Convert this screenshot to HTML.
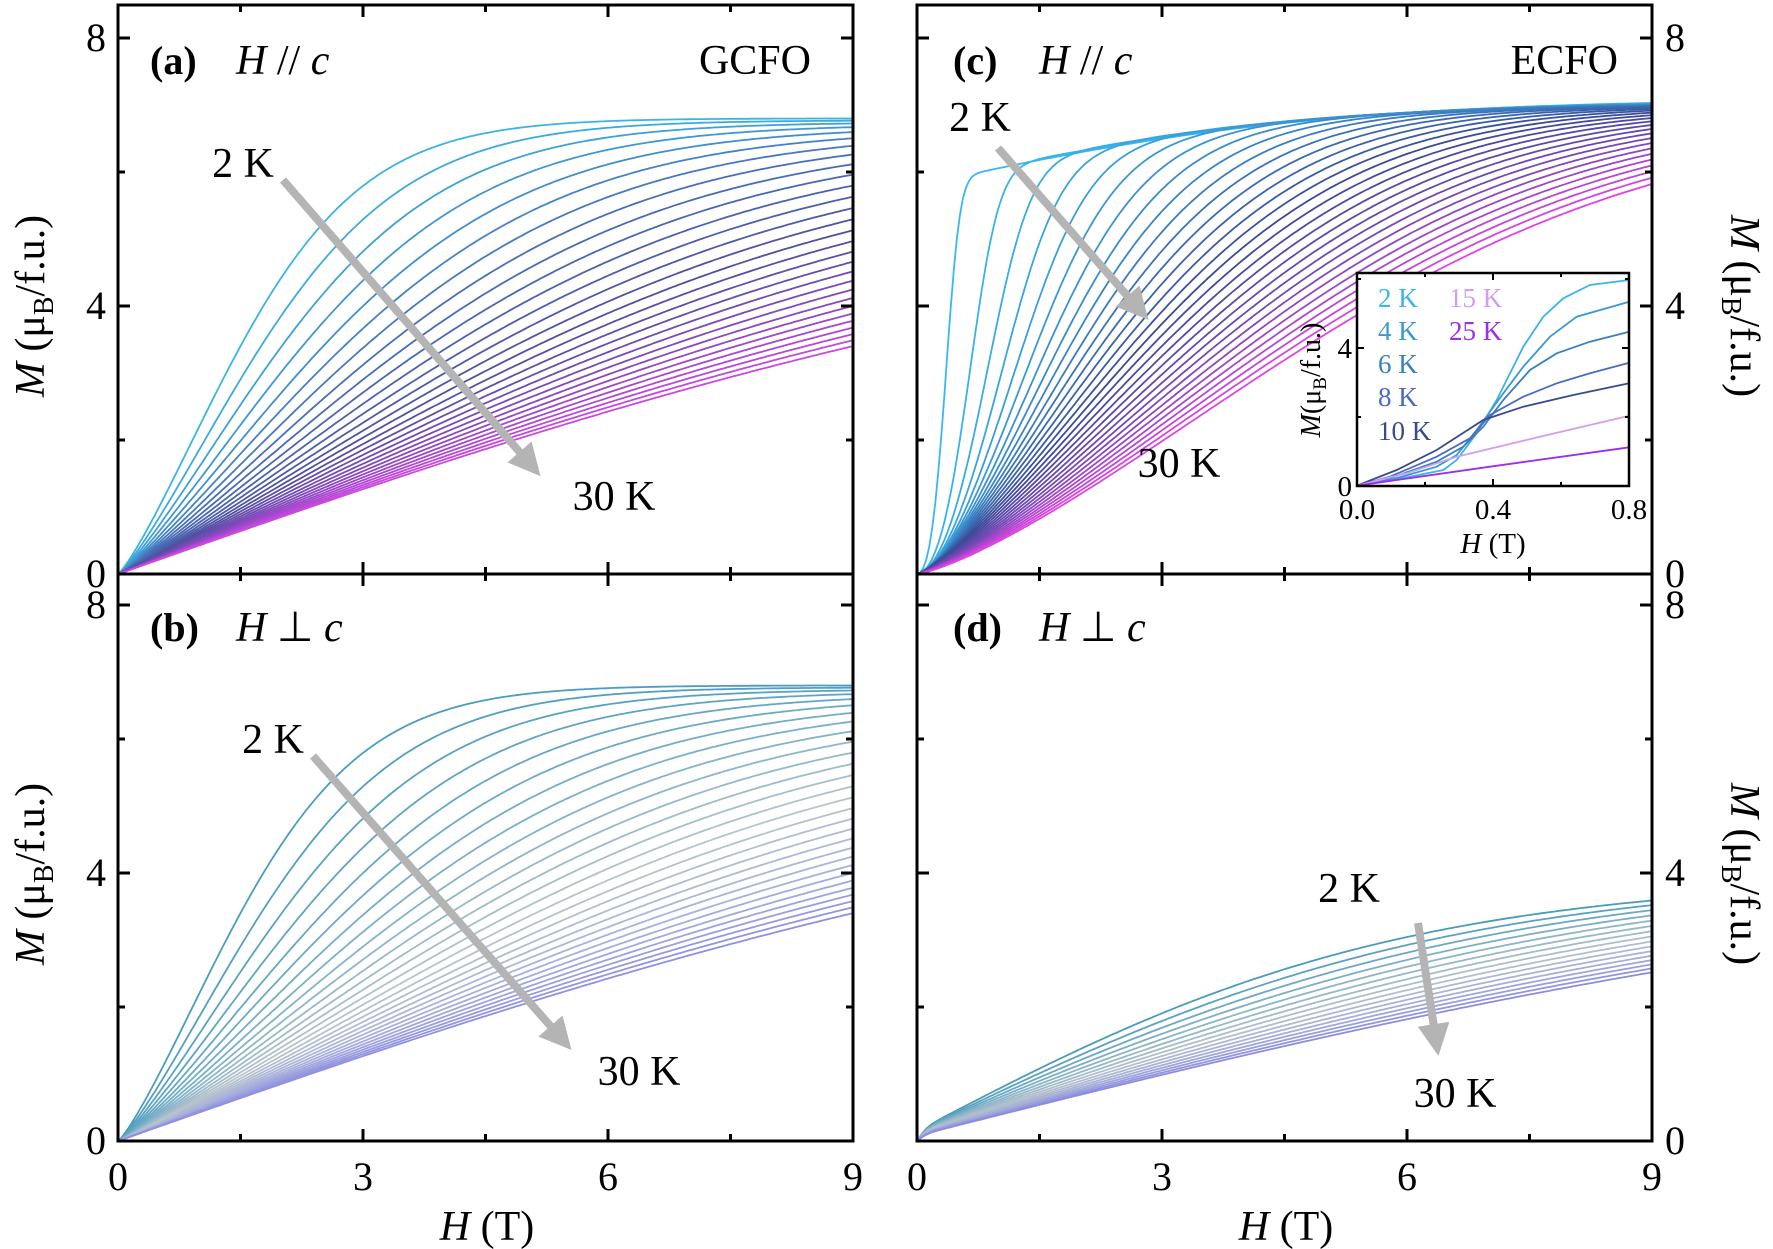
<!DOCTYPE html>
<html><head><meta charset="utf-8">
<style>
html,body{margin:0;padding:0;background:#fff;}
svg{display:block;}
text{font-family:"Liberation Serif",serif;fill:#000;}
</style></head>
<body>
<svg id="s" width="1773" height="1249" viewBox="0 0 1773 1249" xmlns="http://www.w3.org/2000/svg">
<defs>
<marker id="ah" markerWidth="4" markerHeight="4" refX="2" refY="2" orient="auto" markerUnits="strokeWidth">
<path d="M0,0 L4,2 L0,4 Z" fill="#b4b4b4"/></marker>
</defs>
<g id="curves"></g>
<g id="axes" fill="none" stroke="#000" stroke-width="3"></g>
<g id="labels"></g>
</svg>
<script>
const NS="http://www.w3.org/2000/svg";
const S=document.getElementById('s'),C=document.getElementById('curves'),A=document.getElementById('axes'),L=document.getElementById('labels');
function el(tag,attrs,parent,txt){const e=document.createElementNS(NS,tag);for(const k in attrs)e.setAttribute(k,attrs[k]);if(txt!==undefined)e.innerHTML=txt;(parent||S).appendChild(e);return e;}
function hex(c){return [parseInt(c.slice(1,3),16),parseInt(c.slice(3,5),16),parseInt(c.slice(5,7),16)];}
function grad(stops,t){const n=stops.length-1;let i=Math.min(Math.floor(t*n),n-1);const f=t*n-i;const a=hex(stops[i]),b=hex(stops[i+1]);return 'rgb('+a.map((v,k)=>Math.round(v+(b[k]-v)*f)).join(',')+')';}
const P={a:{x0:118,y0:574},b:{x0:118,y0:1141},c:{x0:917,y0:574},d:{x0:917,y0:1141}};
const XS=735/9, YS=67;
function curve(p,fn,color,w){let d='';for(let i=0;i<=240;i++){const H=9*i/240;const M=fn(H);d+=(i?'L':'M')+(p.x0+H*XS).toFixed(1)+','+(p.y0-M*YS).toFixed(1);}el('path',{d:d,stroke:color,'stroke-width':w||1.8,fill:'none'},C);}
const th=Math.tanh;
const N=29;
for(let i=0;i<N;i++){const t=i/(N-1);const Aa=6.8-0.8*t,w=2.47+(14-2.47)*t,p=1.2-0.2*t;
 const f=H=>Aa*th(Math.pow(H/w,p));
 curve(P.a,f,grad(['#3ab4e4','#4870b8','#5050a0','#8a48c0','#cc48e0'],t));
 curve(P.b,f,grad(['#4a9cc0','#7ab0c8','#b8c4cc','#a8b0dc','#9090e0'],t));
}
const Nc=31;
for(let i=0;i<Nc;i++){const t=i/(Nc-1);const A1=5.8+1.1*t,w=0.45+(7.66-0.45)*Math.pow(t,0.85),p=1.3+1.2*Math.pow(1-t,6),B=1.3*(1-t);
 curve(P.c,H=>A1*th(Math.pow(H/w,p))+B*th(H/5),grad(['#38b8f0','#3a88c8','#3a4a98','#7a48b8','#e044e4'],t));
}
const Nd=16;
for(let i=0;i<Nd;i++){const t=i/(Nd-1);const Ad=3.8+0.5*t,w=6+8*t,o=0.15-0.07*t;
 curve(P.d,H=>o*th(H/0.12)+Ad*th(H/w),grad(['#4a9cbc','#88b4c8','#b4c0cc','#a4aed8','#8c8ce0'],t));
}
function frame(p,top,bot){
 const x0=p.x0,x1=p.x0+735;
 el('rect',{x:x0,y:top,width:735,height:bot-top},A);
 let d='';
 for(let k=0;k<=6;k++){const x=x0+k*1.5*XS;const l=k%2?7:12;d+=`M${x},${bot}v${-l}M${x},${top}v${l}`;}
 for(let k=0;k<=4;k++){const y=p.y0-k*2*YS;if(y<top-1)continue;const l=k%2?7:12;d+=`M${x0},${y}h${l}M${x1},${y}h${-l}`;}
 el('path',{d:d},A);
}
frame(P.a,5,574);frame(P.b,574,1141);frame(P.c,5,574);frame(P.d,574,1141);
function txt(x,y,s,attrs){const a=Object.assign({x:x,y:y,'font-size':40},attrs||{});return el('text',a,L,s);}
[P.a,P.b].forEach(p=>{[0,4,8].forEach(v=>txt(106,p.y0-v*YS+13,v,{'text-anchor':'end'}));});
[P.c,P.d].forEach(p=>{[0,4,8].forEach(v=>txt(1665,p.y0-v*YS+13,v));});
[118,917].forEach(x0=>{[0,3,6,9].forEach(v=>txt(x0+v*XS,1190,v,{'text-anchor':'middle'}));});
txt(487,1240,'<tspan font-style="italic">H</tspan> (T)',{'text-anchor':'middle','font-size':42});
txt(1286,1240,'<tspan font-style="italic">H</tspan> (T)',{'text-anchor':'middle','font-size':42});
function ytitle(x,y,rot){const g=el('g',{transform:`translate(${x},${y}) rotate(${rot})`},L);
 el('text',{x:0,y:0,'text-anchor':'middle','font-size':42},g,'<tspan font-style="italic">M</tspan> (μ<tspan font-size="28" dy="9">B</tspan><tspan dy="-9">/f.u.)</tspan>');}
ytitle(44,306,-90);ytitle(44,874,-90);ytitle(1731,306,90);ytitle(1731,874,90);
function plab(x,y,l,rest){txt(x,y,l,{'font-weight':'bold','font-size':40});txt(x+86,y,rest,{'font-size':42});}
plab(150,74,'(a)','<tspan font-style="italic">H</tspan> // <tspan font-style="italic">c</tspan>');
plab(150,641,'(b)','<tspan font-style="italic">H</tspan> ⊥ <tspan font-style="italic">c</tspan>');
plab(953,74,'(c)','<tspan font-style="italic">H</tspan> // <tspan font-style="italic">c</tspan>');
plab(953,641,'(d)','<tspan font-style="italic">H</tspan> ⊥ <tspan font-style="italic">c</tspan>');
txt(811,74,'GCFO',{'text-anchor':'end','font-size':42});
txt(1618,74,'ECFO',{'text-anchor':'end','font-size':42});
function ann(k2,k30,a1,a2){txt(k2[0],k2[1],'2 K',{'text-anchor':'middle','font-size':42});txt(k30[0],k30[1],'30 K',{'text-anchor':'middle','font-size':42});
 el('line',{x1:a1[0],y1:a1[1],x2:a2[0],y2:a2[1],stroke:'#b4b4b4','stroke-width':8,'marker-end':'url(#ah)'},L);}
ann([243,177],[614,510],[283,180],[530,464]);
ann([273,753],[639,1085],[313,756],[561,1038]);
ann([980,131],[1179,477],[998,148],[1138,308]);
ann([1349,902],[1455,1107],[1418,923],[1436,1040]);
const I=el('g',{},L);
el('rect',{x:1357,y:273,width:272,height:213,fill:'#fff',stroke:'none'},I);
const IC=el('g',{},I);
const idata=[
['#3cb4ec',[[200,677],[300,662],[460,630],[500,600],[560,520],[620,420],[700,260],[760,170],[820,115],[900,75],[1018,60]]],
['#3a9ad0',[[200,677],[300,660],[440,620],[500,585],[560,510],[640,400],[700,320],[780,230],[860,170],[1018,125]]],
['#3a80c0',[[200,677],[300,655],[440,605],[520,560],[580,500],[640,420],[720,330],[800,280],[900,245],[1018,215]]],
['#4a6ac8',[[200,677],[300,650],[440,590],[540,535],[600,465],[700,410],[800,370],[900,340],[1018,308]]],
['#3a4a90',[[200,677],[320,630],[440,570],[580,480],[700,440],[850,405],[1018,370]]],
['#d0a0f0',[[200,677],[350,640],[500,590],[750,530],[1018,467]]],
['#9a30e8',[[200,677],[600,620],[1018,562]]]];
idata.forEach(([c,pts])=>{el('polyline',{points:pts.map(p=>(1290+p[0]/3).toFixed(1)+','+(260+p[1]/3).toFixed(1)).join(' '),fill:'none',stroke:c,'stroke-width':1.8},IC);});
el('rect',{x:1357,y:273,width:272,height:213,fill:'none',stroke:'#000','stroke-width':2.5},I);
let id='';
[0,0.2,0.4,0.6,0.8].forEach((v,k)=>{const x=1357+v*340;const l=k%2?4:7;id+=`M${x},486v${-l}M${x},273v${l}`;});
[0,2,4,6].forEach((v,k)=>{const y=486-v*34.5;const l=k%2?4:7;id+=`M1357,${y}h${l}M1629,${y}h${-l}`;});
el('path',{d:id,stroke:'#000','stroke-width':2,fill:'none'},I);
[['0.0',1357],['0.4',1493],['0.8',1629]].forEach(([s,x])=>txt(x,519,s,{'text-anchor':'middle','font-size':29}));
txt(1352,496,'0',{'text-anchor':'end','font-size':29});
txt(1352,358,'4',{'text-anchor':'end','font-size':29});
txt(1493,553,'<tspan font-style="italic">H</tspan> (T)',{'text-anchor':'middle','font-size':29});
{const g=el('g',{transform:'translate(1320,380) rotate(-90)'},I);el('text',{x:0,y:0,'text-anchor':'middle','font-size':28},g,'<tspan font-style="italic">M</tspan>(μ<tspan font-size="19" dy="6">B</tspan><tspan dy="-6">/f.u.)</tspan>');}
[['2 K','#3cb4ec',1378,307],['4 K','#3a9ad0',1378,340],['6 K','#3a80c0',1378,373],['8 K','#4a6ac8',1378,406],['10 K','#3a4a90',1378,440],['15 K','#d0a0f0',1449,307],['25 K','#9a30e8',1449,340]].forEach(([s,c,x,y])=>txt(x,y,s,{'font-size':27,style:'fill:'+c}));
</script>
</body></html>
